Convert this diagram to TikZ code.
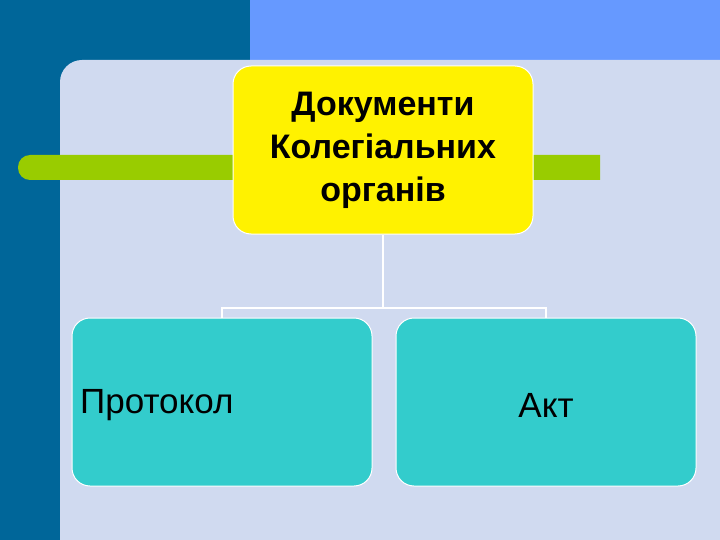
\documentclass[tikz,border=0pt]{standalone}
\usepackage{fontspec}
\setmainfont{Liberation Sans}
\begin{document}
\begin{tikzpicture}[x=1pt,y=-1pt,
  box/.style={draw=white,line width=1pt,rounded corners=18pt,inner sep=0pt},
  conn/.style={draw=white,line width=1.2pt}]
\useasboundingbox (0,0) rectangle (720,540);
\fill[color={rgb,255:red,102;green,153;blue,255}] (0,0) rectangle (720,540);
\fill[color={rgb,255:red,0;green,102;blue,153}] (0,0) rectangle (250,90);
\fill[color={rgb,255:red,0;green,102;blue,153}] (0,0) rectangle (60,540);
\fill[color={rgb,255:red,208;green,218;blue,240}] (60,540) [rounded corners=22pt] -- (60,60) [sharp corners] -- (720,60) -- (720,540) -- cycle;
\fill[color={rgb,255:red,153;green,204;blue,0},rounded corners=12pt] (600,155) -- (18,155) -- (18,180) [sharp corners] -- (600,180) -- cycle;
\node[box,fill=yellow,minimum width=300pt,minimum height=168pt,align=center,font=\fontsize{34}{43}\selectfont\bfseries] (top) at (383,150) {Документи\\Колегіальних\\органів};
\node[box,fill={rgb,255:red,51;green,204;blue,204},minimum width=300pt,minimum height=168pt] (l) at (222,402) {};
\node[box,fill={rgb,255:red,51;green,204;blue,204},minimum width=300pt,minimum height=168pt] (r) at (546,402) {};
\node[anchor=west,inner sep=0pt,font=\fontsize{35}{40}\selectfont] (lt) at (80,405) {Протокол};
\node[font=\fontsize{35}{40}\selectfont] (rt) at (546,405) {Акт};
\coordinate (j) at (383,308);
\draw[conn] (top.south) -- (j) -| (l.north);
\draw[conn] (j) -| (r.north);
\end{tikzpicture}
\end{document}
